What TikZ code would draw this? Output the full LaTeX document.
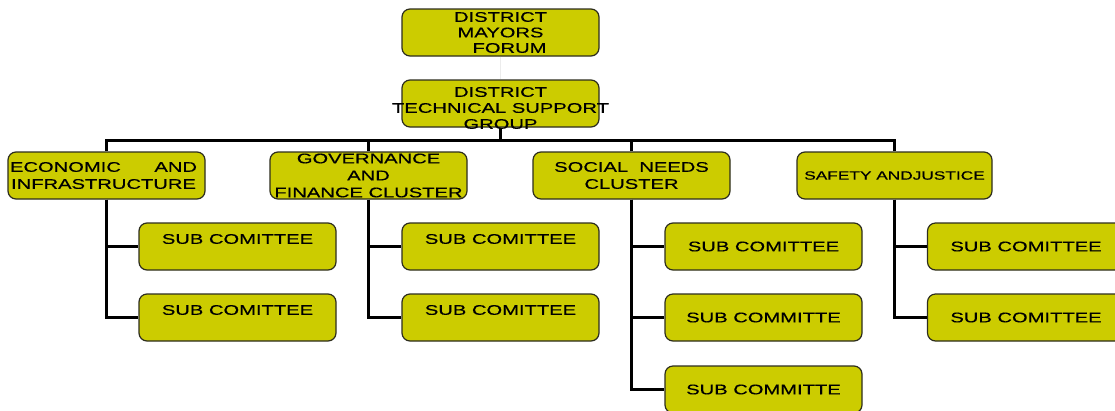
\documentclass[tikz,border=0pt]{standalone}
\usepackage{fontspec}
\setmainfont{Liberation Sans}[FakeStretch=1.44,FakeBold=0.4]
\definecolor{boxfill}{RGB}{204,204,0}
\definecolor{boxline}{RGB}{45,45,30}
\begin{document}
\begin{tikzpicture}[x=1pt,y=-1pt,
  box/.style={draw=boxline, line width=1.2pt, fill=boxfill, rounded corners=8pt,
              minimum width=197pt, minimum height=47pt, inner sep=0pt},
  txt/.style={align=center, inner sep=0pt, font=\fontsize{14}{17}\selectfont, text=black},
  conn/.style={line width=3pt, draw=black, line join=miter}]
\clip (0,0) rectangle (1115,410);
\fill[white] (0,0) rectangle (1115,410);
% boxes
\node[box] (dmf)  at (500.5,32.5) {};
\node[box] (dtsg) at (500.5,103.5) {};
\node[box] (econ) at (106.5,175.5) {};
\node[box] (gov)  at (368.5,175.5) {};
\node[box] (soc)  at (631.5,175.5) {};
\node[box, minimum width=195pt] (saf) at (894.5,175.5) {};
\node[box] (e1) at (237.5,246.5) {};
\node[box] (e2) at (237.5,317.5) {};
\node[box] (g1) at (500.5,246.5) {};
\node[box] (g2) at (500.5,317.5) {};
\node[box] (s1) at (763.5,246.5) {};
\node[box] (s2) at (763.5,317.5) {};
\node[box] (s3) at (763.5,389.5) {};
\node[box] (f1) at (1026,246.5) {};
\node[box] (f2) at (1026,317.5) {};
% connectors
\draw[gray!15, line width=0.4pt] (dmf.south) -- (dtsg.north);
\coordinate (bus) at (500.5,140);
\draw[conn] (dtsg.south) -- (bus);
\draw[conn] (econ.north) |- (bus);
\draw[conn] (gov.north) |- (bus);
\draw[conn] (soc.north) |- (bus);
\draw[conn] (saf.north) |- (bus);
\draw[conn] (econ.south) |- (e1.west);
\draw[conn] (econ.south) |- (e2.west);
\draw[conn] (gov.south) |- (g1.west);
\draw[conn] (gov.south) |- (g2.west);
\draw[conn] (soc.south) |- (s1.west);
\draw[conn] (soc.south) |- (s2.west);
\draw[conn] (soc.south) |- (s3.west);
\draw[conn] (saf.south) |- (f1.west);
\draw[conn] (saf.south) |- (f2.west);
% texts
\node[txt, font=\fontsize{14}{15.5}\selectfont] (dmft) at (dmf.center) {DISTRICT\\MAYORS\\\hspace*{18pt}FORUM};
\node[txt, font=\fontsize{14}{16}\selectfont] (dtsgt) at ([yshift=-4.5pt]dtsg.center) {DISTRICT\\TECHNICAL SUPPORT\\GROUP};
\node[txt] (econt) at ([xshift=-3pt]econ.center) {\makebox[187pt]{ECONOMIC\hfill AND}\\INFRASTRUCTURE};
\node[txt] (govt) at (gov.center) {GOVERNANCE\\AND\\FINANCE CLUSTER};
\node[txt] (soct) at (soc.center) {SOCIAL\ \ NEEDS\\CLUSTER};
\node[txt, font=\fontsize{12}{14}\selectfont] (saft) at (saf.center) {SAFETY ANDJUSTICE};
\node[txt] (e1t) at ([yshift=7.5pt]e1.center) {SUB COMITTEE};
\node[txt] (e2t) at ([yshift=7.5pt]e2.center) {SUB COMITTEE};
\node[txt] (g1t) at ([yshift=7.5pt]g1.center) {SUB COMITTEE};
\node[txt] (g2t) at ([yshift=7.5pt]g2.center) {SUB COMITTEE};
\node[txt] (s1t) at (s1.center) {SUB COMITTEE};
\node[txt] (s2t) at (s2.center) {SUB COMMITTE};
\node[txt] (s3t) at (s3.center) {SUB COMMITTE};
\node[txt] (f1t) at (f1.center) {SUB COMITTEE};
\node[txt] (f2t) at (f2.center) {SUB COMITTEE};
\end{tikzpicture}
\end{document}
